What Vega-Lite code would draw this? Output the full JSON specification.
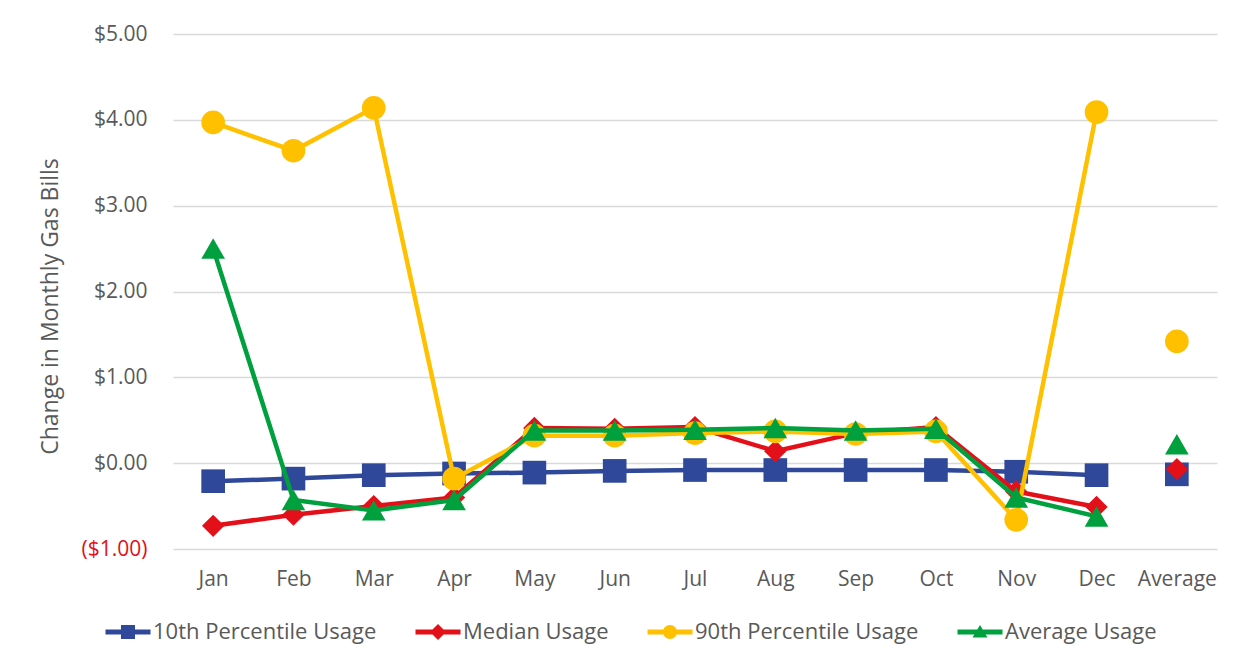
{
  "$schema": "https://vega.github.io/schema/vega-lite/v6.json",
  "autosize": {"type": "none"},
  "padding": {"left": 173, "top": 34, "right": 28, "bottom": 120},
  "width": 1044,
  "height": 515,
  "background": "white",
  "config": {
    "view": {"stroke": null},
    "font": "Open Sans",
    "axis": {"labelFont": "Open Sans", "titleFont": "Open Sans", "labelColor": "#595959", "titleColor": "#595959"}
  },
  "data": {
    "values": [
      {"month": "Jan", "series": "10th Percentile Usage", "value": -0.21},
      {"month": "Feb", "series": "10th Percentile Usage", "value": -0.18},
      {"month": "Mar", "series": "10th Percentile Usage", "value": -0.14},
      {"month": "Apr", "series": "10th Percentile Usage", "value": -0.12},
      {"month": "May", "series": "10th Percentile Usage", "value": -0.11},
      {"month": "Jun", "series": "10th Percentile Usage", "value": -0.09},
      {"month": "Jul", "series": "10th Percentile Usage", "value": -0.08},
      {"month": "Aug", "series": "10th Percentile Usage", "value": -0.08},
      {"month": "Sep", "series": "10th Percentile Usage", "value": -0.08},
      {"month": "Oct", "series": "10th Percentile Usage", "value": -0.08},
      {"month": "Nov", "series": "10th Percentile Usage", "value": -0.10},
      {"month": "Dec", "series": "10th Percentile Usage", "value": -0.14},
      {"month": "Average", "series": "10th Percentile Usage", "value": -0.13},
      {"month": "Jan", "series": "Median Usage", "value": -0.73},
      {"month": "Feb", "series": "Median Usage", "value": -0.60},
      {"month": "Mar", "series": "Median Usage", "value": -0.50},
      {"month": "Apr", "series": "Median Usage", "value": -0.40},
      {"month": "May", "series": "Median Usage", "value": 0.41},
      {"month": "Jun", "series": "Median Usage", "value": 0.40},
      {"month": "Jul", "series": "Median Usage", "value": 0.42},
      {"month": "Aug", "series": "Median Usage", "value": 0.14},
      {"month": "Sep", "series": "Median Usage", "value": 0.35},
      {"month": "Oct", "series": "Median Usage", "value": 0.42},
      {"month": "Nov", "series": "Median Usage", "value": -0.33},
      {"month": "Dec", "series": "Median Usage", "value": -0.51},
      {"month": "Average", "series": "Median Usage", "value": -0.07},
      {"month": "Jan", "series": "90th Percentile Usage", "value": 3.97},
      {"month": "Feb", "series": "90th Percentile Usage", "value": 3.64},
      {"month": "Mar", "series": "90th Percentile Usage", "value": 4.14},
      {"month": "Apr", "series": "90th Percentile Usage", "value": -0.18},
      {"month": "May", "series": "90th Percentile Usage", "value": 0.32},
      {"month": "Jun", "series": "90th Percentile Usage", "value": 0.32},
      {"month": "Jul", "series": "90th Percentile Usage", "value": 0.35},
      {"month": "Aug", "series": "90th Percentile Usage", "value": 0.37},
      {"month": "Sep", "series": "90th Percentile Usage", "value": 0.34},
      {"month": "Oct", "series": "90th Percentile Usage", "value": 0.37},
      {"month": "Nov", "series": "90th Percentile Usage", "value": -0.66},
      {"month": "Dec", "series": "90th Percentile Usage", "value": 4.09},
      {"month": "Average", "series": "90th Percentile Usage", "value": 1.42},
      {"month": "Jan", "series": "Average Usage", "value": 2.50},
      {"month": "Feb", "series": "Average Usage", "value": -0.43},
      {"month": "Mar", "series": "Average Usage", "value": -0.55},
      {"month": "Apr", "series": "Average Usage", "value": -0.43},
      {"month": "May", "series": "Average Usage", "value": 0.38},
      {"month": "Jun", "series": "Average Usage", "value": 0.38},
      {"month": "Jul", "series": "Average Usage", "value": 0.39},
      {"month": "Aug", "series": "Average Usage", "value": 0.41},
      {"month": "Sep", "series": "Average Usage", "value": 0.38},
      {"month": "Oct", "series": "Average Usage", "value": 0.40},
      {"month": "Nov", "series": "Average Usage", "value": -0.40},
      {"month": "Dec", "series": "Average Usage", "value": -0.62},
      {"month": "Average", "series": "Average Usage", "value": 0.22}
    ]
  },
  "encoding": {
    "x": {
      "field": "month", "type": "nominal",
      "sort": ["Jan","Feb","Mar","Apr","May","Jun","Jul","Aug","Sep","Oct","Nov","Dec","Average"],
      "scale": {"type": "point", "padding": 0.5, "domain": ["Jan","Feb","Mar","Apr","May","Jun","Jul","Aug","Sep","Oct","Nov","Dec","Average"]},
      "axis": {"title": null, "labelAngle": 0, "domain": false, "ticks": false, "grid": false, "labelFontSize": 21, "labelPadding": 19}
    },
    "y": {
      "field": "value", "type": "quantitative",
      "scale": {"domain": [-1, 5], "nice": false, "zero": false},
      "axis": {
        "title": "Change in Monthly Gas Bills",
        "titleFontSize": 23, "titleFontWeight": "normal",
        "titleX": -123, "titleY": 272, "titleAngle": -90, "titleAlign": "center", "titleBaseline": "middle",
        "values": [-1, 0, 1, 2, 3, 4, 5],
        "labelExpr": "datum.value < 0 ? '($' + format(-datum.value, '.2f') + ')' : '$' + format(datum.value, '.2f')",
        "labelColor": {"condition": {"test": "datum.value < 0", "value": "#E3101A"}, "value": "#595959"},
        "labelFontSize": 21, "labelPadding": 26,
        "domain": false, "ticks": false,
        "grid": true, "gridColor": "#D9D9D9", "gridWidth": 1.3
      }
    }
  },
  "layer": [
    {
      "transform": [{"filter": "datum.series == '10th Percentile Usage' && datum.month != 'Average'"}],
      "mark": {"type": "line", "color": "#2F489A", "strokeWidth": 4.5}
    },
    {
      "transform": [{"filter": "datum.series == '10th Percentile Usage'"}],
      "mark": {"type": "point", "shape": "square", "filled": true, "color": "#2F489A", "opacity": 1, "size": 560}
    },
    {
      "transform": [{"filter": "datum.series == 'Median Usage' && datum.month != 'Average'"}],
      "mark": {"type": "line", "color": "#E3101A", "strokeWidth": 4.5}
    },
    {
      "transform": [{"filter": "datum.series == 'Median Usage'"}],
      "mark": {"type": "point", "shape": "diamond", "filled": true, "color": "#E3101A", "opacity": 1, "size": 500}
    },
    {
      "transform": [{"filter": "datum.series == '90th Percentile Usage' && datum.month != 'Average'"}],
      "mark": {"type": "line", "color": "#FFC000", "strokeWidth": 4.5}
    },
    {
      "transform": [{"filter": "datum.series == '90th Percentile Usage'"}],
      "mark": {"type": "point", "shape": "circle", "filled": true, "color": "#FFC000", "opacity": 1, "size": 560}
    },
    {
      "transform": [{"filter": "datum.series == 'Average Usage' && datum.month != 'Average'"}],
      "mark": {"type": "line", "color": "#00A03E", "strokeWidth": 4.5}
    },
    {
      "transform": [{"filter": "datum.series == 'Average Usage'"}],
      "mark": {"type": "point", "shape": "triangle-up", "filled": true, "color": "#00A03E", "opacity": 1, "size": 560}
    },
    {
      "transform": [{"filter": "datum.value > 100"}],
      "mark": {"type": "point", "filled": true, "opacity": 1},
      "encoding": {
        "color": {
          "field": "series", "type": "nominal",
          "scale": {"domain": ["10th Percentile Usage", "Median Usage", "90th Percentile Usage", "Average Usage"], "range": ["#2F489A", "#E3101A", "#FFC000", "#00A03E"]},
          "legend": {
            "title": null, "orient": "none", "direction": "horizontal", "columns": 4,
            "legendX": -56, "legendY": 587,
            "symbolSize": 100, "symbolStrokeWidth": 0, "symbolOpacity": 1,
            "labelFont": "Open Sans", "labelFontSize": 22, "labelColor": "#595959", "labelLimit": 400,
            "labelOffset": 14, "columnPadding": 38
          }
        },
        "shape": {
          "field": "series", "type": "nominal",
          "scale": {
            "domain": ["10th Percentile Usage", "Median Usage", "90th Percentile Usage", "Average Usage"],
            "range": [
              "M-4.5,-0.5H4.5V0.5H-4.5Z M-1.4,-1.4H1.4V1.4H-1.4Z",
              "M-4.5,-0.5H4.5V0.5H-4.5Z M0,-1.6L1.6,0L0,1.6L-1.6,0Z",
              "M-4.5,-0.5H4.5V0.5H-4.5Z M1.4,0A1.4,1.4 0 1,1 -1.4,0A1.4,1.4 0 1,1 1.4,0Z",
              "M-4.5,-0.5H4.5V0.5H-4.5Z M0,-1.4L1.5,1.1L-1.5,1.1Z"
            ]
          },
          "legend": {
            "title": null, "orient": "none", "direction": "horizontal", "columns": 4,
            "legendX": -56, "legendY": 587,
            "symbolSize": 100, "symbolStrokeWidth": 0, "symbolOpacity": 1,
            "labelFont": "Open Sans", "labelFontSize": 22, "labelColor": "#595959", "labelLimit": 400,
            "labelOffset": 14, "columnPadding": 38
          }
        }
      }
    }
  ]
}
